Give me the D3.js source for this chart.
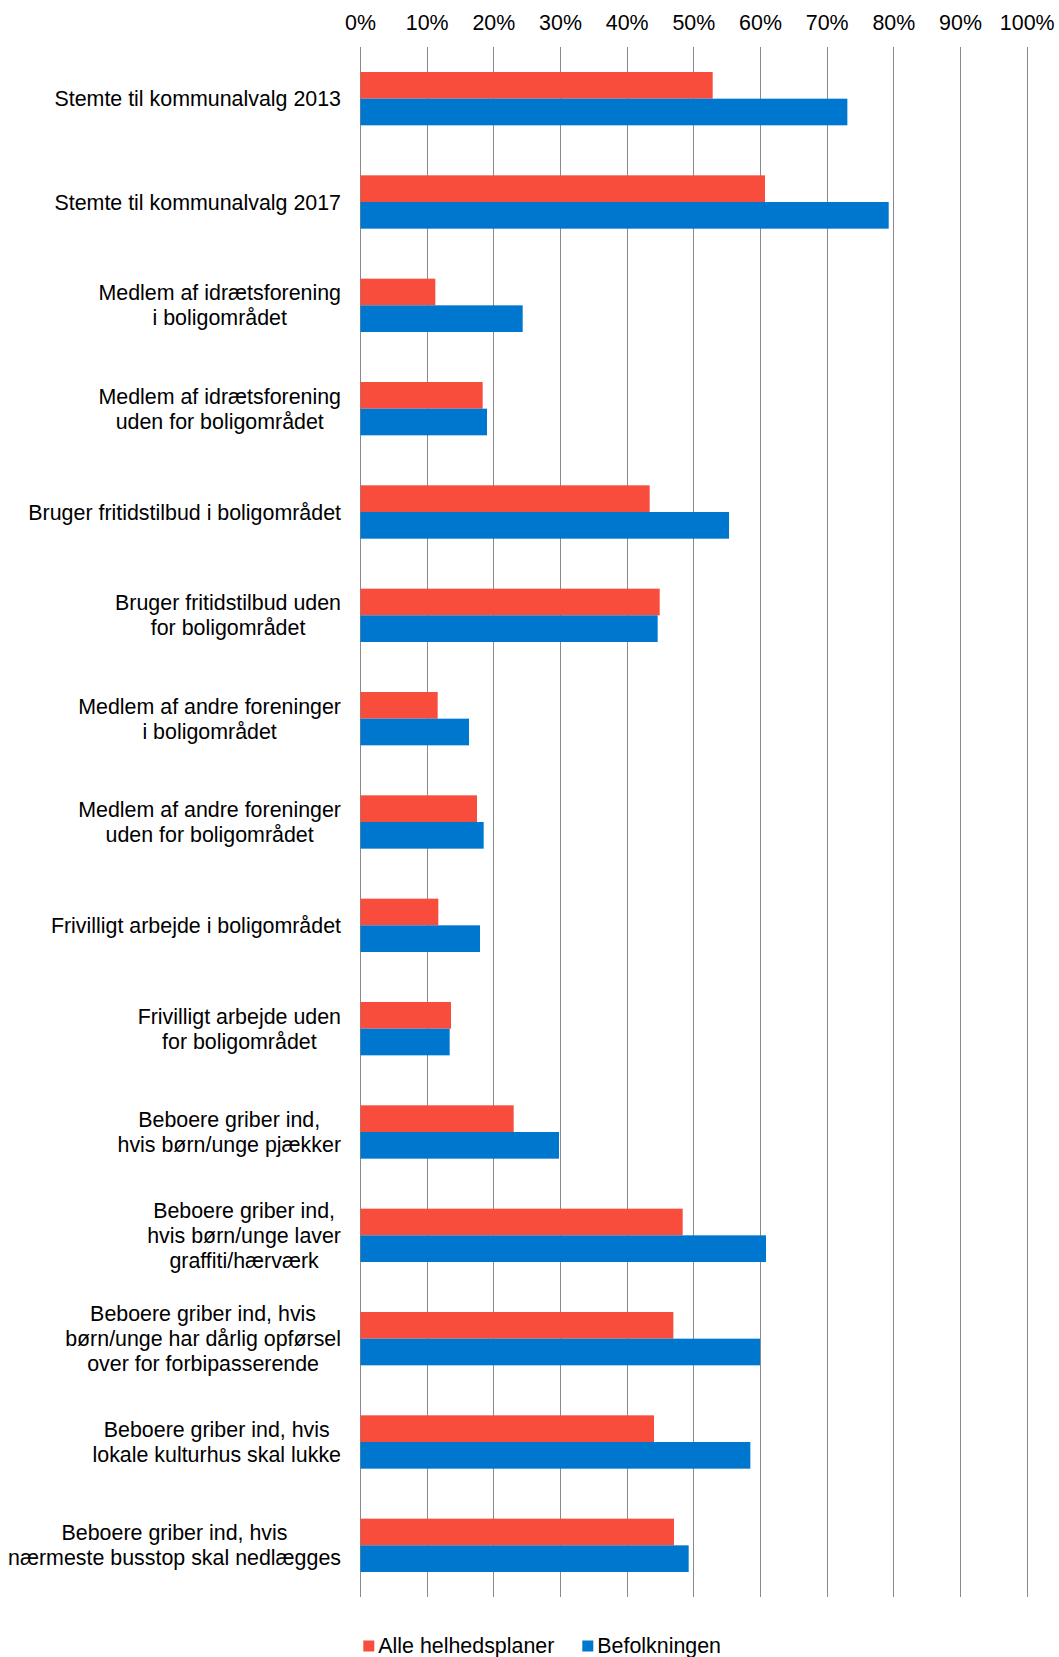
<!DOCTYPE html>
<html>
<head>
<meta charset="utf-8">
<script src="https://cdn.jsdelivr.net/npm/d3@7"></script>
<style>
  html, body { margin: 0; padding: 0; background: #fff; }
  svg { display: block; font-family: "Liberation Sans", Arial, sans-serif; }
</style>
</head>
<body>
<svg id="chart" width="1059" height="1657"></svg>
<script>
const categories = [
  ["Stemte til kommunalvalg 2013"],
  ["Stemte til kommunalvalg 2017"],
  ["Medlem af idrætsforening", "i boligområdet"],
  ["Medlem af idrætsforening", "uden for boligområdet"],
  ["Bruger fritidstilbud i boligområdet"],
  ["Bruger fritidstilbud uden", "for boligområdet"],
  ["Medlem af andre foreninger", "i boligområdet"],
  ["Medlem af andre foreninger", "uden for boligområdet"],
  ["Frivilligt arbejde i boligområdet"],
  ["Frivilligt arbejde uden", "for boligområdet"],
  ["Beboere griber ind,", "hvis børn/unge pjækker"],
  ["Beboere griber ind,", "hvis børn/unge laver", "graffiti/hærværk"],
  ["Beboere griber ind, hvis", "børn/unge har dårlig opførsel", "over for forbipasserende"],
  ["Beboere griber ind, hvis", "lokale kulturhus skal lukke"],
  ["Beboere griber ind, hvis", "nærmeste busstop skal nedlægges"]
];
const seriesNames = ["Alle helhedsplaner", "Befolkningen"];
const alleHelhedsplaner = [52.9, 60.75, 11.3, 18.4, 43.45, 44.95, 11.65, 17.55, 11.75, 13.65, 23.05, 48.4, 47.0, 44.1, 47.1];
const befolkningen     = [73.1, 79.3, 24.4, 19.05, 55.35, 44.65, 16.35, 18.55, 18.0, 13.45, 29.85, 60.9, 60.0, 58.55, 49.3];
const tickValues = [0, 10, 20, 30, 40, 50, 60, 70, 80, 90, 100];
const tickLabels = tickValues.map(v => v + "%");
const colors = ["#F84D3D", "#0077CF"];

const svg = d3.select("#chart");
const plot = { left: 360, right: 1026.7, top: 47, bottom: 1597 };
const fontSize = 21.4;

const x = d3.scaleLinear().domain([0, 100]).range([plot.left, plot.right]);
const catIdx = d3.range(categories.length);
const y = d3.scaleBand().domain(catIdx).range([plot.top, plot.bottom]).padding(0);
const ySub = d3.scaleBand().domain([0, 1]).range([0, y.step()]).paddingInner(0).paddingOuter(0.9375);

// gridlines
svg.append("g")
  .selectAll("line")
  .data(tickValues)
  .join("line")
  .attr("x1", d => Math.round(x(d)) + 0.5)
  .attr("x2", d => Math.round(x(d)) + 0.5)
  .attr("y1", plot.top)
  .attr("y2", plot.bottom)
  .attr("stroke", "#8a8a8a")
  .attr("stroke-width", 1);

// top axis labels
const xAxis = d3.axisTop(x).tickValues(tickValues).tickFormat((d, i) => tickLabels[i]).tickSize(0).tickPadding(0);
const axG = svg.append("g").attr("transform", "translate(0,30)").call(xAxis);
axG.select(".domain").remove();
axG.selectAll("text")
  .attr("y", 0).attr("dy", 0)
  .attr("font-size", fontSize)
  .attr("font-family", '"Liberation Sans", Arial, sans-serif')
  .attr("fill", "#000");

// bars
const seriesData = [alleHelhedsplaner, befolkningen];
seriesData.forEach((vals, s) => {
  svg.append("g")
    .selectAll("rect")
    .data(vals)
    .join("rect")
    .attr("x", x(0) + 0.5)
    .attr("y", (d, i) => y(i) + ySub(s))
    .attr("width", d => x(d) - x(0) - 0.5)
    .attr("height", ySub.bandwidth())
    .attr("fill", colors[s]);
});

// category labels
const labelRight = 341;
const lineH = 25;
const lg = svg.append("g");
categories.forEach((lines, i) => {
  const cy = y(i) + y.bandwidth() / 2;
  const t = lg.append("text")
    .attr("font-size", fontSize)
    .attr("fill", "#000")
    .attr("text-anchor", "middle");
  const spans = lines.map((ln, j) => t.append("tspan")
    .attr("y", cy + 7.5 - (lines.length - 1) * lineH / 2 + j * lineH)
    .text(ln));
  let maxW = 0;
  spans.forEach(sp => { maxW = Math.max(maxW, sp.node().getComputedTextLength()); });
  spans.forEach(sp => sp.attr("x", labelRight - maxW / 2));
});

// legend
const legend = svg.append("g");
const legendItems = [{ x: 363.3, name: seriesNames[0], c: colors[0] }, { x: 582.3, name: seriesNames[1], c: colors[1] }];
legendItems.forEach(it => {
  legend.append("rect").attr("x", it.x).attr("y", 1640.5).attr("width", 11).attr("height", 11).attr("fill", it.c);
  legend.append("text").attr("x", it.x + 15).attr("y", 1653.3).attr("font-size", fontSize).attr("fill", "#000").text(it.name);
});
</script>
</body>
</html>
